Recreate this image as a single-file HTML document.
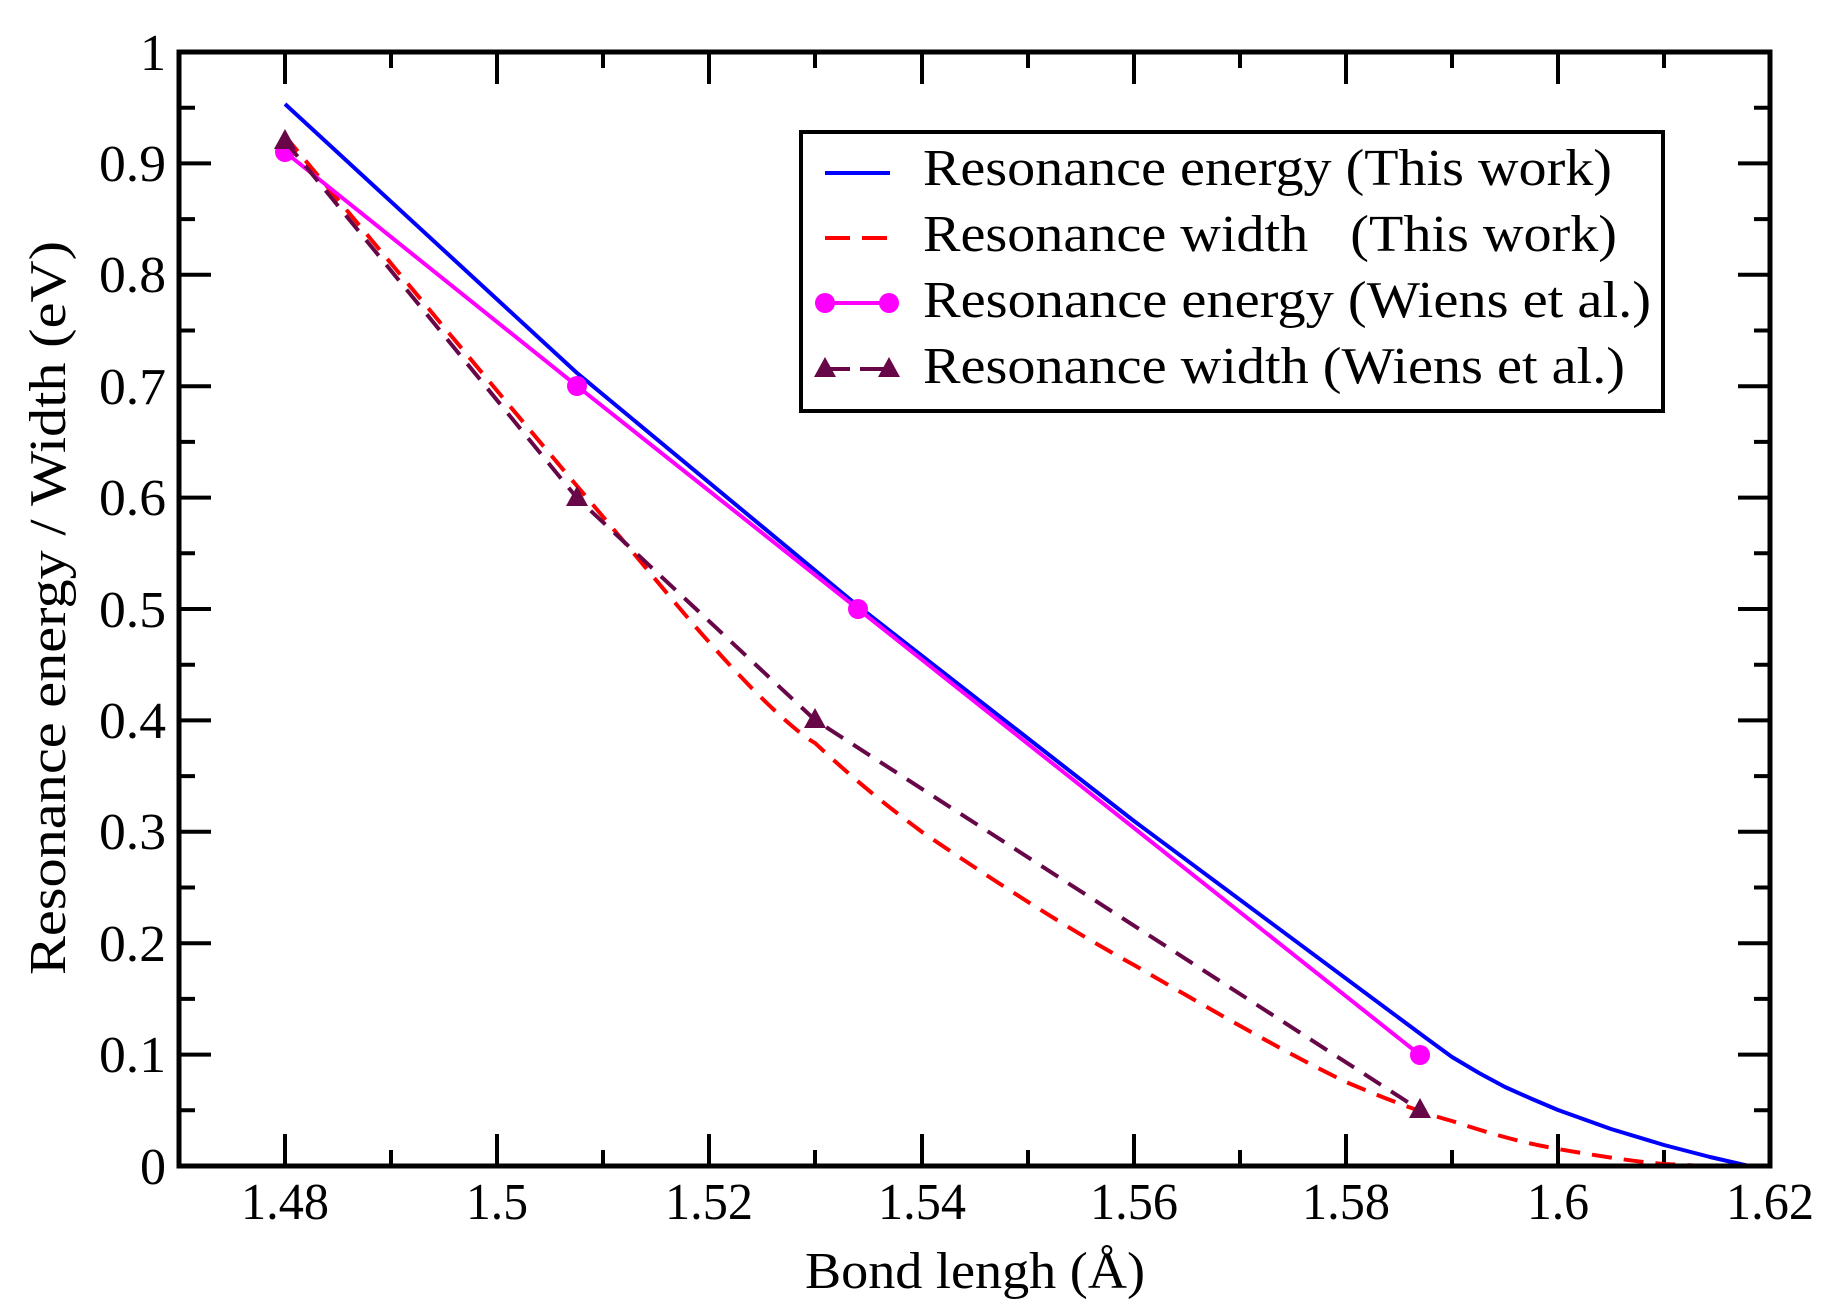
<!DOCTYPE html>
<html><head><meta charset="utf-8"><style>html,body{margin:0;padding:0;background:#fff}svg{display:block}</style></head>
<body>
<svg width="1840" height="1315" viewBox="0 0 1840 1315" xmlns="http://www.w3.org/2000/svg" font-family="Liberation Serif, Times New Roman, serif">
<rect width="1840" height="1315" fill="#fff"/>
<g stroke="#000" stroke-width="4">
<path d="M285 1166v-32M285 52v32M497 1166v-32M497 52v32M709 1166v-32M709 52v32M922 1166v-32M922 52v32M1134 1166v-32M1134 52v32M1346 1166v-32M1346 52v32M1558 1166v-32M1558 52v32"/>
<path d="M391 1166v-16M391 52v16M603 1166v-16M603 52v16M815 1166v-16M815 52v16M1028 1166v-16M1028 52v16M1240 1166v-16M1240 52v16M1452 1166v-16M1452 52v16M1664 1166v-16M1664 52v16"/>
<path d="M179 1054.6h32M1770 1054.6h-32M179 943.2h32M1770 943.2h-32M179 831.8h32M1770 831.8h-32M179 720.4h32M1770 720.4h-32M179 609h32M1770 609h-32M179 497.6h32M1770 497.6h-32M179 386.2h32M1770 386.2h-32M179 274.8h32M1770 274.8h-32M179 163.4h32M1770 163.4h-32"/>
<path d="M179 1110.3h16M1770 1110.3h-16M179 998.9h16M1770 998.9h-16M179 887.5h16M1770 887.5h-16M179 776.1h16M1770 776.1h-16M179 664.7h16M1770 664.7h-16M179 553.3h16M1770 553.3h-16M179 441.9h16M1770 441.9h-16M179 330.5h16M1770 330.5h-16M179 219.1h16M1770 219.1h-16M179 107.7h16M1770 107.7h-16"/>
</g>
<polyline fill="none" stroke="#0000ff" stroke-width="4" stroke-linejoin="round" points="285,104 577,373 858,606 1134,821 1426,1038 1452,1057 1479,1073 1505,1087 1532,1099 1558,1110 1611,1129 1664,1145 1710,1157 1749,1166"/>
<path fill="none" stroke="#ff0000" stroke-width="4" stroke-dasharray="20,12" d="M285,136 C380,250 500,395 577,486 C640,560 680,610 709,642 C760,700 800,735 815,743 C860,785 890,808 922,832 C1000,885 1070,930 1134,965 C1220,1015 1290,1055 1346,1082 C1400,1105 1430,1115 1452,1121 C1500,1137 1530,1144 1558,1149 C1610,1158 1640,1162 1664,1164 L1706,1166"/>
<polyline fill="none" stroke="#ff00ff" stroke-width="4" points="285,152 577,386 858,609 1420,1055"/>
<g fill="#ff00ff"><circle cx="285" cy="152" r="10"/><circle cx="577" cy="386" r="10"/><circle cx="858" cy="609" r="10"/><circle cx="1420" cy="1055" r="10"/></g>
<polyline fill="none" stroke="#670748" stroke-width="4" stroke-dasharray="20,12" points="285,141 577,498 815,720 1420,1110"/>
<g fill="#670748"><path d="M285 129l-11 20h22z"/><path d="M577 486l-11 20h22z"/><path d="M815 708l-11 20h22z"/><path d="M1420 1098l-11 20h22z"/></g>
<rect x="179" y="52" width="1591" height="1114" fill="none" stroke="#000" stroke-width="5"/>
<g font-size="52" text-anchor="end">
<text x="166" y="1184">0</text><text x="166" y="1072" textLength="67" lengthAdjust="spacingAndGlyphs">0.1</text><text x="166" y="961" textLength="67" lengthAdjust="spacingAndGlyphs">0.2</text><text x="166" y="849" textLength="67" lengthAdjust="spacingAndGlyphs">0.3</text><text x="166" y="738" textLength="67" lengthAdjust="spacingAndGlyphs">0.4</text><text x="166" y="627" textLength="67" lengthAdjust="spacingAndGlyphs">0.5</text><text x="166" y="515" textLength="67" lengthAdjust="spacingAndGlyphs">0.6</text><text x="166" y="404" textLength="67" lengthAdjust="spacingAndGlyphs">0.7</text><text x="166" y="292" textLength="67" lengthAdjust="spacingAndGlyphs">0.8</text><text x="166" y="181" textLength="67" lengthAdjust="spacingAndGlyphs">0.9</text><text x="166" y="70">1</text>
</g>
<g font-size="52" text-anchor="middle">
<text x="285" y="1219" textLength="88" lengthAdjust="spacingAndGlyphs">1.48</text><text x="497" y="1219" textLength="62" lengthAdjust="spacingAndGlyphs">1.5</text><text x="709" y="1219" textLength="88" lengthAdjust="spacingAndGlyphs">1.52</text><text x="922" y="1219" textLength="88" lengthAdjust="spacingAndGlyphs">1.54</text><text x="1134" y="1219" textLength="88" lengthAdjust="spacingAndGlyphs">1.56</text><text x="1346" y="1219" textLength="88" lengthAdjust="spacingAndGlyphs">1.58</text><text x="1558" y="1219" textLength="62" lengthAdjust="spacingAndGlyphs">1.6</text><text x="1770" y="1219" textLength="88" lengthAdjust="spacingAndGlyphs">1.62</text>
</g>
<text x="975" y="1288" font-size="52" text-anchor="middle" textLength="340" lengthAdjust="spacingAndGlyphs">Bond lengh (Å)</text>
<text transform="translate(65,608) rotate(-90)" font-size="52" text-anchor="middle" textLength="734" lengthAdjust="spacingAndGlyphs">Resonance energy / Width (eV)</text>
<rect x="801" y="132" width="862" height="279" fill="#fff" stroke="#000" stroke-width="4"/>
<line x1="825" y1="173" x2="890" y2="173" stroke="#0000ff" stroke-width="4"/>
<line x1="825" y1="238" x2="888" y2="238" stroke="#ff0000" stroke-width="4" stroke-dasharray="25,12"/>
<line x1="825" y1="303" x2="890" y2="303" stroke="#ff00ff" stroke-width="4"/>
<circle cx="825" cy="303" r="10" fill="#ff00ff"/><circle cx="889" cy="303" r="10" fill="#ff00ff"/>
<line x1="825" y1="369" x2="890" y2="369" stroke="#670748" stroke-width="4" stroke-dasharray="25,10"/>
<path d="M825 357l-11 20h22z M889 357l-11 20h22z" fill="#670748"/>
<g font-size="52">
<text x="923" y="185" textLength="689" lengthAdjust="spacingAndGlyphs">Resonance energy (This work)</text>
<text x="923" y="251" textLength="694" lengthAdjust="spacingAndGlyphs" xml:space="preserve">Resonance width   (This work)</text>
<text x="923" y="317" textLength="728" lengthAdjust="spacingAndGlyphs">Resonance energy (Wiens et al.)</text>
<text x="923" y="383" textLength="702" lengthAdjust="spacingAndGlyphs">Resonance width (Wiens et al.)</text>
</g>
</svg>
</body></html>
